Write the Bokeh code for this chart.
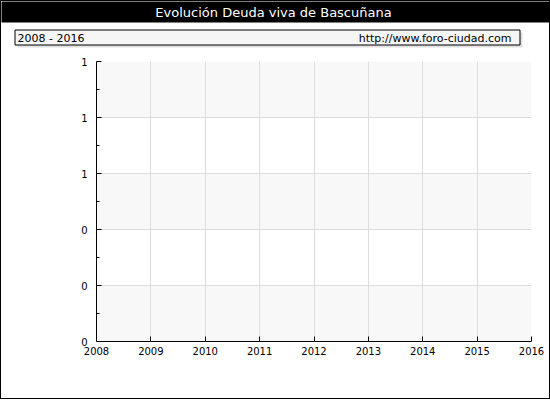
from bokeh.plotting import figure
from bokeh.models import Range1d, FixedTicker, PrintfTickFormatter, ColumnDataSource, Grid
from bokeh.layouts import column
from bokeh.core.properties import value
from bokeh.embed import file_html
from bokeh.resources import INLINE

title_text = "Evolución Deuda viva de Bascuñana"
period_text = "2008 - 2016"
site_text = "http://www.foro-ciudad.com"
years = [2008, 2009, 2010, 2011, 2012, 2013, 2014, 2015, 2016]
deuda = []  # no values shown in the chart
y_ticks = [0, 0.2, 0.4, 0.6, 0.8, 1.0]
y_minor = [0.1, 0.3, 0.5, 0.7, 0.9]

font = "DejaVu Sans"
IW = 548           # inner width (inside 1px page border)
HEAD_H = 54        # header strip height
MAIN_H = 343

# ---------------- header strip (title bar + info box) ----------------
head = figure(width=IW, height=HEAD_H, output_backend="svg", toolbar_location=None,
              x_range=Range1d(1, 1 + IW), y_range=Range1d(1 + HEAD_H, 1),
              x_axis_location=None, y_axis_location=None, min_border=0)
head.frame_align = False
head.outline_line_color = None
head.xgrid.visible = False
head.ygrid.visible = False
head.background_fill_color = "white"
head.border_fill_color = "white"

head.quad(left=[0], right=[1 + IW], top=[0], bottom=[22], fill_color="black", line_color=None)
head.text(x=[273], y=[12], text=[title_text], text_color="white", text_font=value(font),
          text_font_size="13px", text_align="center", text_baseline="middle")
head.quad(left=[17], right=[522], top=[32], bottom=[47], fill_color="#e0e0e0", line_color=None)
head.quad(left=[14.5], right=[519.5], top=[29.5], bottom=[44.5], fill_color="#f6f6f6",
          line_color="black", line_width=1)
head.text(x=[17], y=[37.5], text=[period_text], text_color="black", text_font=value(font),
          text_font_size="11px", text_align="left", text_baseline="middle")
head.text(x=[511], y=[37.5], text=[site_text], text_color="black", text_font=value(font),
          text_font_size="11px", text_align="right", text_baseline="middle")

# ---------------- main chart ----------------
FL, FR, FT, FB = 96, 531, 61, 341  # page pixels of frame
top0 = 1 + HEAD_H
p = figure(width=IW, height=MAIN_H, output_backend="svg", toolbar_location=None,
           x_range=Range1d(years[0], years[-1]), y_range=Range1d(y_ticks[0], y_ticks[-1]),
           min_border_left=FL - 1, min_border_right=1 + IW - FR,
           min_border_top=FT - top0, min_border_bottom=(top0 + MAIN_H) - FB)
p.frame_align = False
p.outline_line_color = None
p.background_fill_color = "white"
p.border_fill_color = "white"

src = ColumnDataSource(data=dict(x=years[:len(deuda)], y=deuda))
p.line("x", "y", source=src, line_color="#3366cc", line_width=2)

for ax in (p.xaxis[0], p.yaxis[0]):
    ax.axis_line_color = "black"
    ax.major_tick_line_color = "black"
    ax.minor_tick_line_color = "black"
    ax.major_tick_in = 5
    ax.major_tick_out = 0
    ax.minor_tick_in = 3
    ax.minor_tick_out = 0
    ax.major_label_text_font = font
    ax.major_label_text_font_size = "10px"
    ax.major_label_text_color = "black"

p.xaxis.ticker = FixedTicker(ticks=years)
p.xaxis.major_label_standoff = 5
p.yaxis.ticker = FixedTicker(ticks=y_ticks, minor_ticks=y_minor)
p.yaxis.formatter = PrintfTickFormatter(format="%.0f")
p.yaxis.major_label_standoff = 9

p.xgrid.grid_line_color = "#dddddd"
p.xgrid.ticker = FixedTicker(ticks=years)
p.ygrid.grid_line_color = "#dddddd"
p.ygrid.ticker = FixedTicker(ticks=y_ticks)
p.ygrid.band_fill_color = None

# alternating bands starting with the lowest interval
band_ticks = [y_ticks[0], y_ticks[0] + 1e-9] + y_ticks[1:]
band_grid = Grid(dimension=1, ticker=FixedTicker(ticks=band_ticks),
                 grid_line_color=None, band_fill_color="#f8f8f8", band_fill_alpha=1.0,
                 level="underlay")
p.center.insert(0, band_grid)

layout = column(head, p, spacing=0, styles={"border": "1px solid black"})

open("out.html", "w").write(file_html(layout, INLINE))
